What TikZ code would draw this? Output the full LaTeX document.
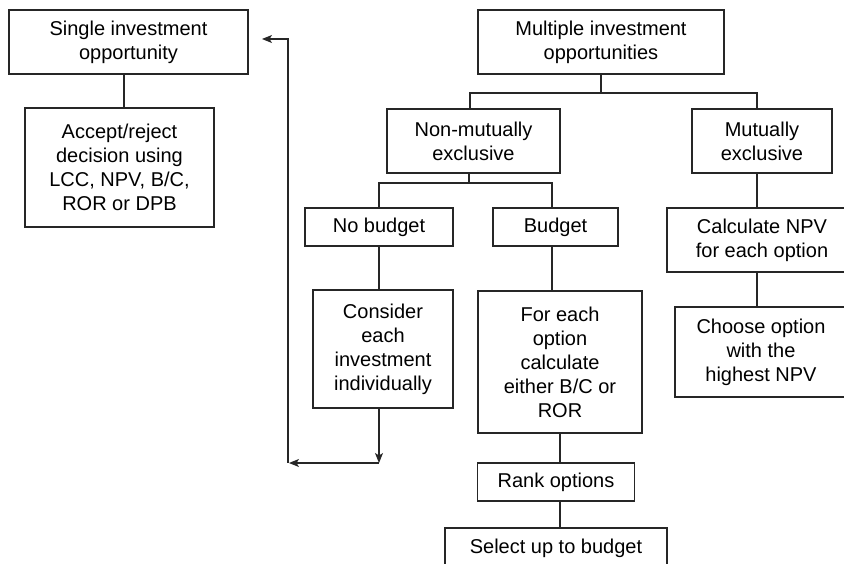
\documentclass[tikz,border=0pt]{standalone}
\usepackage{fontspec}
\setmainfont{Liberation Sans}
\usetikzlibrary{arrows.meta}
\begin{document}
\begin{tikzpicture}[x=1pt,y=-1pt,
  line width=1.1pt, draw=black!85,
  box/.style={draw=black!85, line width=1.1pt, rectangle, inner sep=0pt, align=center,
    font=\fontsize{20}{24}\selectfont, text=black},
  arr/.style={-{Stealth[length=10pt,width=8pt,inset=2.5pt]}}]
\useasboundingbox (0,0) rectangle (844,564);
\clip (0,0) rectangle (844,564);
% nodes
\node[box, minimum width=239pt, minimum height=64pt] (single) at (128.5,42) {Single investment\\opportunity};
\node[box, minimum width=189pt, minimum height=119pt] (accept) at (119.5,167.5) {Accept/reject\\decision using\\LCC, NPV, B/C,\\ROR or DPB};
\node[box, minimum width=246pt, minimum height=64pt] (multiple) at (601,42) {Multiple investment\\opportunities};
\node[box, minimum width=173pt, minimum height=64pt] (nonmut) at (473.5,141) {Non-mutually\\exclusive};
\node[box, minimum width=140pt, minimum height=64pt] (mutual) at (762,141) {Mutually\\exclusive};
\node[box, minimum width=148pt, minimum height=38pt] (nobudget) at (379,227) {No budget};
\node[box, minimum width=125pt, minimum height=38pt] (budget) at (555.5,227) {Budget};
\node[box, minimum width=190pt, minimum height=64pt] (calc) at (762,240) {Calculate NPV\\for each option};
\node[box, minimum width=172pt, minimum height=90pt] (choose) at (761,352) {Choose option\\with the\\highest NPV};
\node[box, minimum width=140pt, minimum height=118pt] (consider) at (383,349) {Consider\\each\\investment\\individually};
\node[box, minimum width=164pt, minimum height=142pt] (foreach) at (560,362) {For each\\option\\calculate\\either B/C or\\ROR};
\node[box, minimum width=157pt, minimum height=38pt] (rank) at (556,482) {Rank options};
\node[box, minimum width=222pt, minimum height=40pt] (select) at (556,548) {Select up to budget};
% junction coordinates
\coordinate (j1) at (601,93);
\coordinate (j1l) at (470,93);
\coordinate (j1r) at (757,93);
\coordinate (j2) at (469,183);
\coordinate (j2l) at (379,183);
\coordinate (j2r) at (552,183);
\coordinate (c1) at (379,463);
\coordinate (c2) at (288,463);
\coordinate (c3) at (288,39);
\coordinate (c4) at (262,39);
\coordinate (xs) at (124,0);
\coordinate (xm) at (757,0);
\coordinate (xf) at (560,0);
% connectors
\draw (xs |- single.south) -- (xs |- accept.north);
\draw (multiple.south) -- (j1);
\draw (j1l |- nonmut.north) -- (j1l) -- (j1r) -- (j1r |- mutual.north);
\draw (j2 |- nonmut.south) -- (j2);
\draw (j2l |- nobudget.north) -- (j2l) -- (j2r) -- (j2r |- budget.north);
\draw (xm |- mutual.south) -- (xm |- calc.north);
\draw (xm |- calc.south) -- (xm |- choose.north);
\draw (j2l |- nobudget.south) -- (j2l |- consider.north);
\draw (j2r |- budget.south) -- (j2r |- foreach.north);
\draw (xf |- foreach.south) -- (xf |- rank.north);
\draw (xf |- rank.south) -- (xf |- select.north);
\draw[arr] (c1 |- consider.south) -- (c1);
\draw[arr] (c1) -- ([xshift=1pt]c2);
\draw[arr] ([yshift=0.5pt]c2) -- (c3) -- (c4);
\end{tikzpicture}
\end{document}
